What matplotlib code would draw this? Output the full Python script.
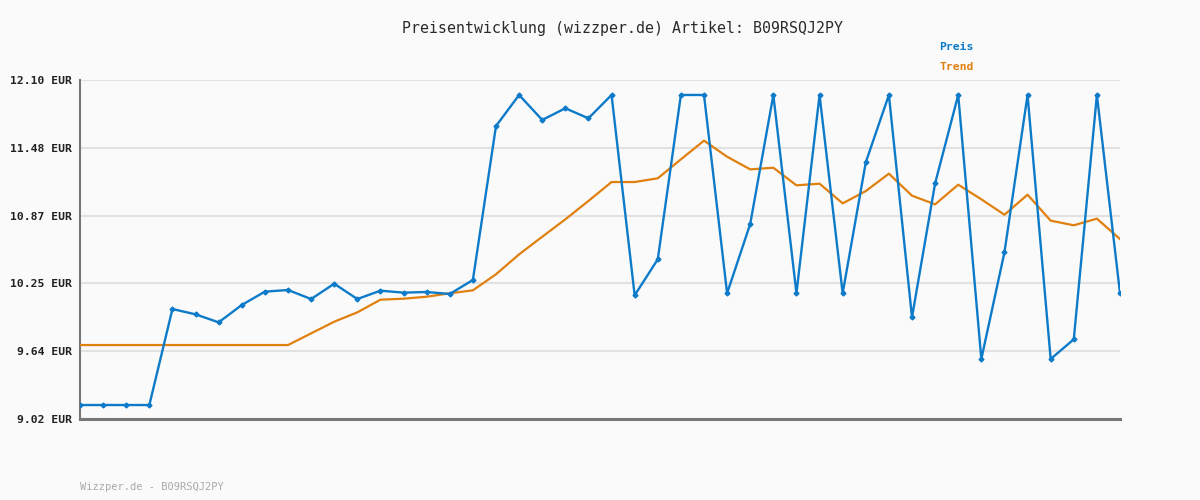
import matplotlib
matplotlib.use("Agg")
import matplotlib.pyplot as plt

preis = [9.147, 9.147, 9.147, 9.147, 10.019, 9.971, 9.898, 10.056, 10.177, 10.192,
         10.110, 10.249, 10.110, 10.186, 10.168, 10.174, 10.156, 10.283, 11.682, 11.964,
         11.737, 11.843, 11.752, 11.964, 10.144, 10.471, 11.964, 11.964, 10.162, 10.792,
         11.964, 10.162, 11.964, 10.162, 11.352, 11.964, 9.944, 11.161, 11.964, 9.565,
         10.534, 11.964, 9.565, 9.744, 11.964, 10.162]
trend = [9.692, 9.692, 9.692, 9.692, 9.692, 9.692, 9.692, 9.692, 9.692, 9.692,
         9.798, 9.904, 9.989, 10.104, 10.113, 10.131, 10.162, 10.189, 10.335, 10.516,
         10.676, 10.834, 11.001, 11.173, 11.173, 11.207, 11.379, 11.549, 11.403, 11.288,
         11.303, 11.143, 11.158, 10.979, 11.091, 11.249, 11.049, 10.970, 11.149, 11.016,
         10.876, 11.058, 10.822, 10.780, 10.840, 10.655]
y_ticks = [9.02, 9.636, 10.252, 10.868, 11.484, 12.10]
y_labels = ["9.02 EUR", "9.64 EUR", "10.25 EUR", "10.87 EUR", "11.48 EUR", "12.10 EUR"]
title = "Preisentwicklung (wizzper.de) Artikel: B09RSQJ2PY"
footer = "Wizzper.de - B09RSQJ2PY"

BLUE = "#0d7bc9"
ORANGE = "#e0800f"
BG = "#fafafa"
mono = "DejaVu Sans Mono"

fig = plt.figure(figsize=(12, 5), dpi=100, facecolor=BG)
ax = fig.add_axes([80/1200, 81/500, 1040/1200, 339/500], facecolor=BG)

x = list(range(len(preis)))
ax.plot(x, trend, color=ORANGE, lw=1.6, zorder=3)
ax.plot(x, preis, color=BLUE, lw=1.7, marker="D", ms=2.5, zorder=4)

ax.set_xlim(0, len(preis) - 1)
ax.set_ylim(y_ticks[0], y_ticks[-1])
ax.set_yticks(y_ticks)
ax.set_yticklabels(y_labels, fontfamily=mono, fontweight="bold", fontsize=8.2, color="#222222")
ax.set_xticks([])
ax.tick_params(axis="y", length=0, pad=6)
ax.grid(axis="y", color="#e2e2e2", lw=1.5)
ax.set_axisbelow(True)
for s in ["top", "right"]:
    ax.spines[s].set_visible(False)
ax.spines["left"].set_color("#777777")
ax.spines["left"].set_linewidth(1.5)
ax.spines["bottom"].set_color("#777777")
ax.spines["bottom"].set_linewidth(2.2)

fig.text(623/1200, 1 - 28/500, title, ha="center", va="center", fontfamily=mono,
         fontsize=10.7, color="#2a2a2a")
fig.text(939/1200, 1 - 47/500, "Preis", ha="left", va="center", fontfamily=mono,
         fontweight="bold", fontsize=8.2, color=BLUE)
fig.text(939/1200, 1 - 67/500, "Trend", ha="left", va="center", fontfamily=mono,
         fontweight="bold", fontsize=8.2, color=ORANGE)
fig.text(80/1200, 1 - 487/500, footer, ha="left", va="center", fontfamily=mono,
         fontsize=7.5, color="#aaaaaa")

fig.savefig("out.png", dpi=100, facecolor=BG)
